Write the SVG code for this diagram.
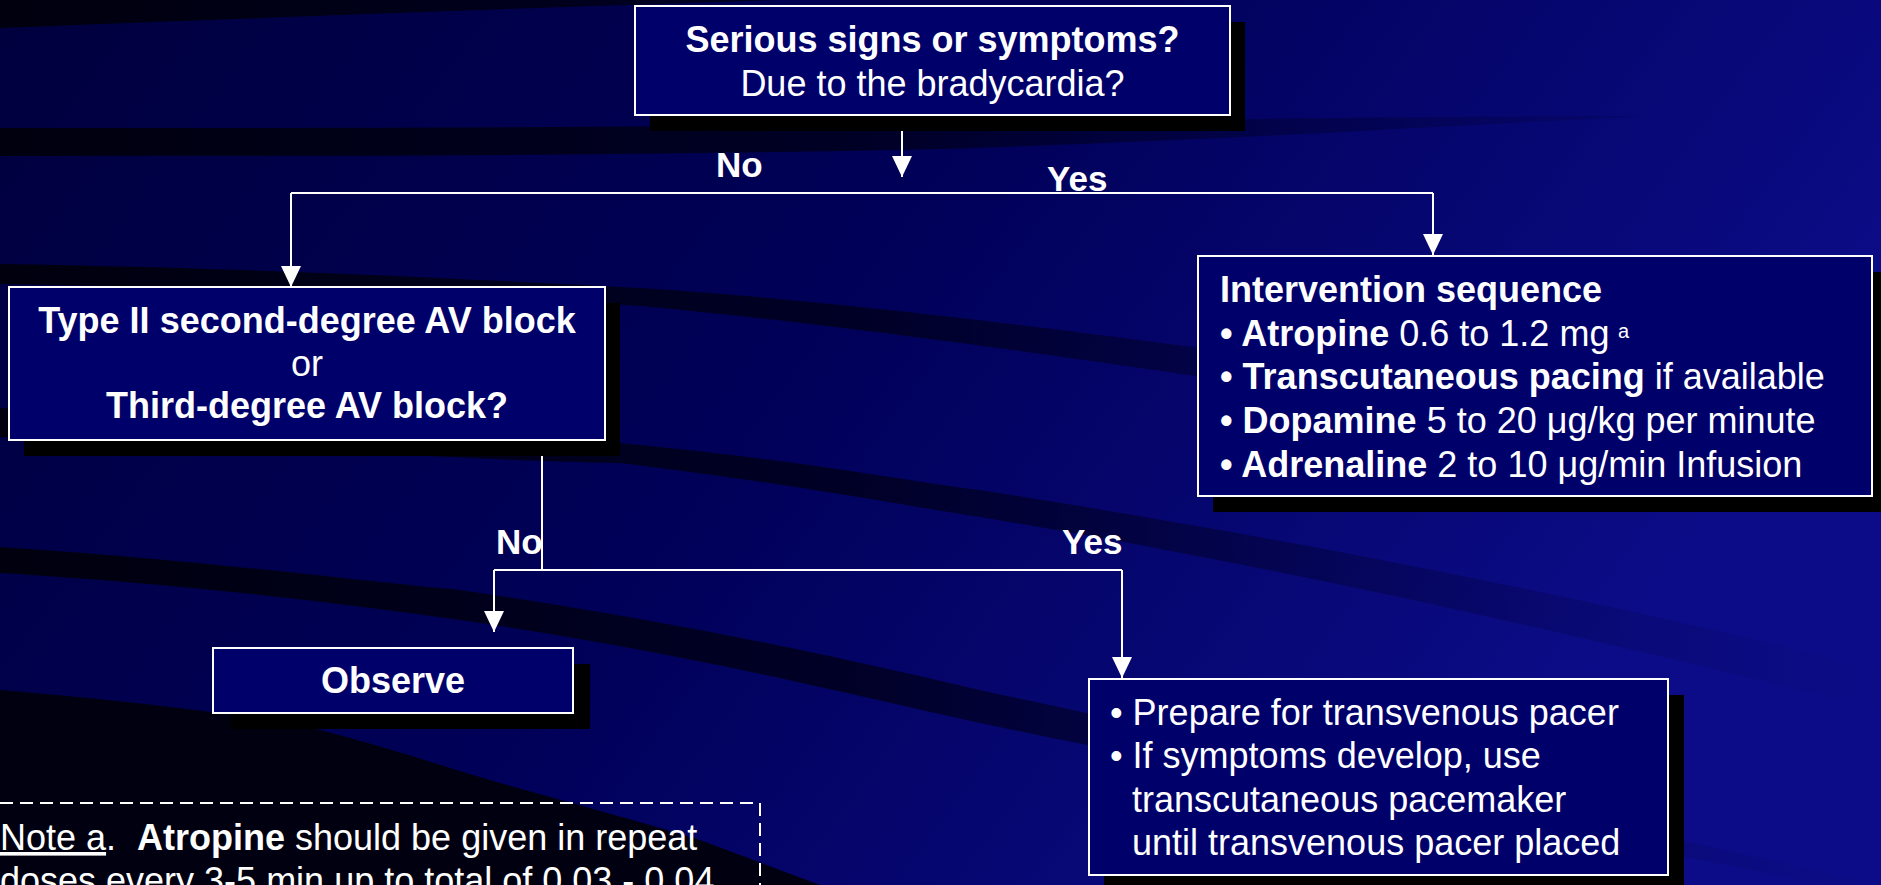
<svg xmlns="http://www.w3.org/2000/svg" width="1881" height="885" viewBox="0 0 1881 885">
<defs>
<linearGradient id="bg" x1="0" y1="0" x2="1" y2="0.35">
<stop offset="0" stop-color="#00003e"/>
<stop offset="0.5" stop-color="#000058"/>
<stop offset="1" stop-color="#0c0c88"/>
</linearGradient>
<linearGradient id="dk" gradientUnits="userSpaceOnUse" x1="0" y1="0" x2="1881" y2="0">
<stop offset="0" stop-color="#00000e" stop-opacity="1"/>
<stop offset="0.45" stop-color="#000020" stop-opacity="0.9"/>
<stop offset="0.75" stop-color="#000030" stop-opacity="0.35"/>
<stop offset="1" stop-color="#000040" stop-opacity="0"/>
</linearGradient>
<marker id="arr" markerUnits="userSpaceOnUse" markerWidth="22" markerHeight="22" viewBox="0 -11 22 22" refX="21" refY="0" orient="auto">
<path d="M0,-10 L21,0 L0,10 Z" fill="#ffffff"/>
</marker>
</defs>
<style>
.box{fill:#00006a;stroke:#ffffff;stroke-width:2}
.sh{fill:#000000}
.t{font-family:"Liberation Sans",Arial,sans-serif;font-size:36px;fill:#ffffff}
.b{font-weight:bold}
.c{text-anchor:middle}
.lbl{font-family:"Liberation Sans",Arial,sans-serif;font-size:35px;font-weight:bold;fill:#ffffff}
.ln{fill:none;stroke:#ffffff;stroke-width:2}
.band{fill:url(#dk)}
</style>
<g id="background">
<rect x="0" y="0" width="1881" height="885" fill="url(#bg)"/>
<path class="band" d="M0,0 H780 C520,8 260,18 0,28 Z"/>
<path class="band" d="M0,128 C300,128 600,128 900,124 C1200,120 1400,116 1650,116 C1400,128 1200,142 900,150 C600,156 300,156 0,156 Z"/>
<path class="band" d="M0,264 C250,268 450,278 640,288 C900,305 1200,345 1881,445 L1881,480 C1200,375 900,330 640,306 C450,295 250,288 0,284 Z"/>
<path class="band" d="M0,408 C250,420 450,440 620,443 C800,460 900,480 980,490 C1300,540 1600,600 1881,670 L1881,710 C1600,640 1300,570 980,517 C900,505 800,485 620,463 C450,460 250,445 0,437 Z"/>
<path class="band" d="M0,547 C200,560 350,580 460,590 C700,625 850,660 980,690 C1300,760 1600,820 1881,885 L1830,885 C1500,820 1250,780 980,723 C850,695 700,655 460,620 C350,605 200,585 0,573 Z"/>
<path fill="#000010" d="M0,690 C120,700 220,712 300,725 C360,740 410,755 450,768 C520,790 620,815 700,840 C740,855 780,870 820,885 L0,885 Z"/>
</g>
<g id="connectors">
<path class="ln" d="M902,115 V177" marker-end="url(#arr)"/>
<path class="ln" d="M291,193 H1433"/>
<path class="ln" d="M291,193 V287" marker-end="url(#arr)"/>
<path class="ln" d="M1433,193 V255" marker-end="url(#arr)"/>
<path class="ln" d="M542,442 V570"/>
<path class="ln" d="M494,570 H1122"/>
<path class="ln" d="M494,570 V632" marker-end="url(#arr)"/>
<path class="ln" d="M1122,570 V678" marker-end="url(#arr)"/>
</g>
<g id="labels">
<text class="lbl" x="716" y="177">No</text>
<text class="lbl" x="1047" y="191">Yes</text>
<text class="lbl" x="496" y="554">No</text>
<text class="lbl" x="1062" y="554">Yes</text>
</g>
<g id="node-serious">
<rect class="sh" x="650" y="22" width="595" height="109"/>
<rect class="box" x="635" y="6" width="595" height="109"/>
<text class="t b c" x="932.5" y="52">Serious signs or symptoms?</text>
<text class="t c" x="932.5" y="96">Due to the bradycardia?</text>
</g>
<g id="node-avblock">
<rect class="sh" x="24" y="303" width="596" height="153"/>
<rect class="box" x="9" y="287" width="596" height="153"/>
<text class="t b c" x="307" y="333">Type II second-degree AV block</text>
<text class="t c" x="307" y="376">or</text>
<text class="t b c" x="307" y="418">Third-degree AV block?</text>
</g>
<g id="node-intervention">
<rect class="sh" x="1213" y="272" width="674" height="240"/>
<rect class="box" x="1198" y="256" width="674" height="240"/>
<text class="t b" x="1220" y="302">Intervention sequence</text>
<text class="t" x="1220" y="346"><tspan class="b">• Atropine</tspan> 0.6 to 1.2 mg</text>
<text class="t" x="1618" y="338" style="font-size:20px">a</text>
<text class="t" x="1220" y="389"><tspan class="b">• Transcutaneous pacing</tspan> if available</text>
<text class="t" x="1220" y="433"><tspan class="b">• Dopamine</tspan> 5 to 20 μg/kg per minute</text>
<text class="t" x="1220" y="477"><tspan class="b">• Adrenaline</tspan> 2 to 10 μg/min Infusion</text>
</g>
<g id="node-observe">
<rect class="sh" x="230" y="664" width="360" height="65"/>
<rect class="box" x="213" y="648" width="360" height="65"/>
<text class="t b c" x="393" y="693">Observe</text>
</g>
<g id="node-pacer">
<rect class="sh" x="1104" y="695" width="580" height="196"/>
<rect class="box" x="1089" y="679" width="579" height="196"/>
<text class="t" x="1110" y="725">• Prepare for transvenous pacer</text>
<text class="t" x="1110" y="768">• If symptoms develop, use</text>
<text class="t" x="1132" y="812">transcutaneous pacemaker</text>
<text class="t" x="1132" y="855">until transvenous pacer placed</text>
</g>
<g id="note">
<rect x="-20" y="803" width="780" height="200" fill="none" stroke="#ffffff" stroke-width="2" stroke-dasharray="13 7"/>
<text class="t" x="0" y="850"><tspan text-decoration="underline">Note a</tspan>.</text>
<text class="t" x="137" y="850"><tspan class="b">Atropine</tspan> should be given in repeat</text>
<text class="t" x="0" y="893">doses every 3-5 min up to total of 0.03 - 0.04</text>
</g>
</svg>
